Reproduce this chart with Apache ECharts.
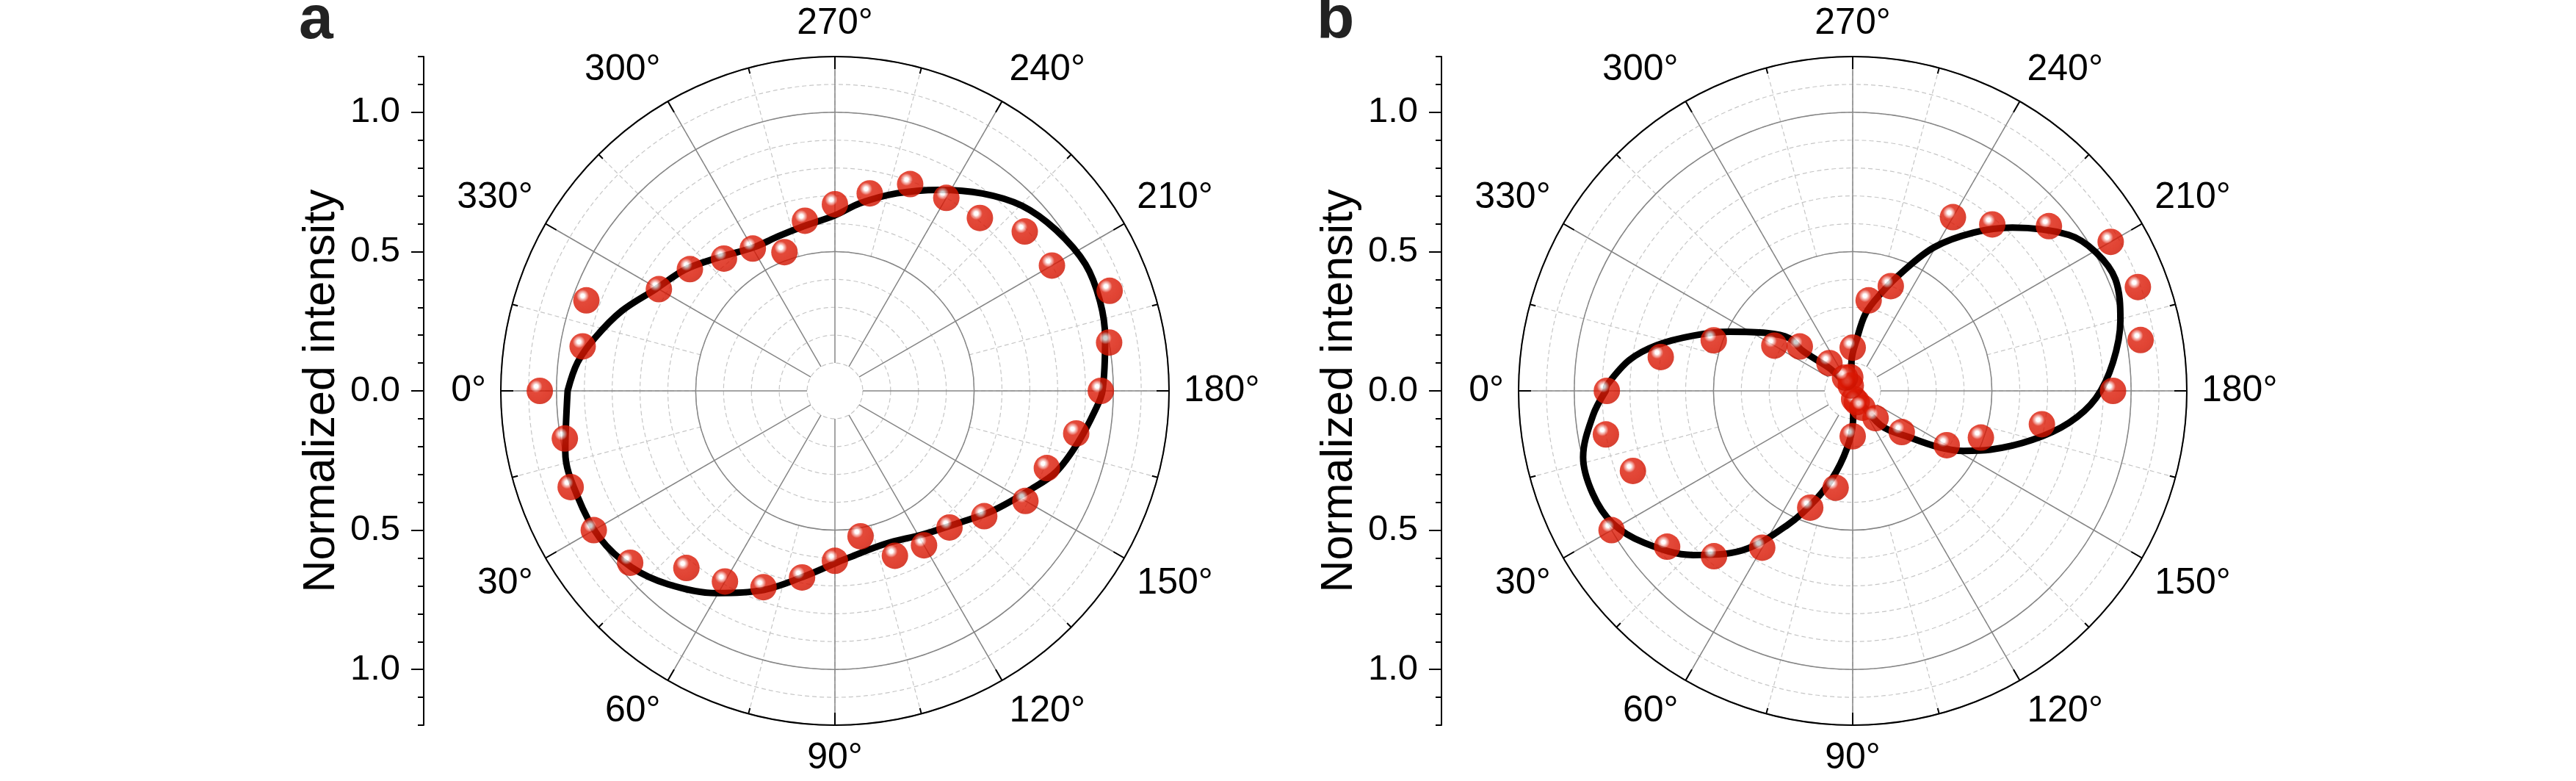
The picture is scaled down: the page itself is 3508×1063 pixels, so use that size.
<!DOCTYPE html>
<html>
<head>
<meta charset="utf-8">
<script src="https://cdn.jsdelivr.net/npm/echarts@6/dist/echarts.min.js"></script>
<style>
html, body { margin: 0; padding: 0; background: #fff; }
#chart { width: 3508px; height: 1063px; }
</style>
</head>
<body>
<div id="chart"></div>
<script>
// measured points, one every 10 degrees
const angles = [0, 10, 20, 30, 40, 50, 60, 70, 80, 90, 100, 110, 120, 130, 140, 150, 160, 170,
    180, 190, 200, 210, 220, 230, 240, 250, 260, 270, 280, 290, 300, 310, 320, 330, 340, 350];

const pointsA = [1.06, 0.985, 1.01, 1.0, 0.96, 0.83, 0.79, 0.75, 0.68, 0.61, 0.53, 0.63,
    0.64, 0.64, 0.70, 0.79, 0.81, 0.88, 0.955, 1.0, 1.05, 0.90, 0.89, 0.81,
    0.80, 0.79, 0.72, 0.67, 0.62, 0.53, 0.59, 0.62, 0.68, 0.73, 0.95, 0.92];

const pointsB = [0.883, 0.90, 0.84, 1.0, 0.87, 0.775, 0.65, 0.446, 0.353, 0.163, 0.03, 0.043,
    0.07, 0.128, 0.23, 0.39, 0.49, 0.69, 0.935, 1.05, 1.09, 1.07, 0.92, 0.78,
    0.72, 0.40, 0.33, 0.155, 0.05, 0.02, 0.055, 0.13, 0.248, 0.325, 0.531, 0.70];

// fitted curves
const fitAngleA = [0, 12.8, 22.2, 32, 40.9, 49.2, 59.8, 69.7, 80.2, 90.7, 95, 108, 121.8, 133,
    142.7, 153.5, 159.9, 168.1, 175.7, 180, 191.1, 198.7, 206.8, 216, 224.7, 233.2, 242.7,
    252.6, 262.3, 270, 281, 290, 299.5, 310.8, 321, 330.4, 339.5, 347.6, 353.7, 360];
const fitRadiusA = [0.96, 0.993, 0.999, 0.996, 0.967, 0.917, 0.84, 0.764, 0.678, 0.616, 0.60, 0.578,
    0.605, 0.649, 0.711, 0.789, 0.846, 0.893, 0.937, 0.961, 0.989, 1.005, 1.008, 0.982, 0.945,
    0.885, 0.812, 0.743, 0.68, 0.63, 0.601, 0.591, 0.592, 0.634, 0.692, 0.74, 0.818, 0.883, 0.93, 0.96];

const fitAngleB = [0, 5.4, 13.8, 21.6, 28.8, 36.1, 45.8, 55.3, 64.2, 71.5, 78.5, 86.6, 91.2, 110,
    129, 140.8, 146.9, 151.6, 156.9, 164.7, 171.6, 178.3, 186.2, 194.7, 203, 209.7, 215.8,
    225.6, 232.6, 240.4, 247.3, 254, 260.5, 265.2, 272.5, 293, 315.3, 319.4, 321.3, 320.4,
    326.1, 334.3, 340.9, 346.9, 352.1, 358.5, 360];
const fitRadiusB = [0.887, 0.937, 0.997, 1.004, 0.985, 0.926, 0.822, 0.696, 0.533, 0.408, 0.296, 0.176,
    0.088, 0, 0.158, 0.264, 0.371, 0.453, 0.538, 0.668, 0.785, 0.874, 0.94, 0.994, 1.025, 1.005,
    0.957, 0.82, 0.715, 0.593, 0.463, 0.362, 0.282, 0.19, 0.102, 0, 0.108, 0.17, 0.233, 0.298,
    0.372, 0.489, 0.606, 0.723, 0.809, 0.881, 0.887];

const yTicks = [-1, -0.5, 0, 0.5, 1];
const panelLetters = ['a', 'b'];

const FONT = 'Liberation Sans';
const R = 455;          // px for r = 1.2
const RMAX = 1.2;
const centers = [[1137, 532], [2523, 532]];
const solidGray = '#868686';
const dashGray = '#c6c6c6';

function ball() {
    return new echarts.graphic.RadialGradient(0.36, 0.33, 0.7, [
        {offset: 0, color: '#ffffff'},
        {offset: 0.1, color: '#ffffff'},
        {offset: 0.17, color: '#f5bcb6'},
        {offset: 0.26, color: '#ea6a5e'},
        {offset: 0.34, color: '#dc1c08'},
        {offset: 0.75, color: '#d91400'},
        {offset: 1, color: '#cc1200'},
    ]);
}

function buildOption() {
    const polar = [];
    const radiusAxis = [];
    const angleAxis = [];
    const grid = [];
    const xAxis = [];
    const yAxis = [];
    const series = [];
    const graphic = [];

    const fits = [[fitAngleA, fitRadiusA], [fitAngleB, fitRadiusB]];
    const points = [pointsA, pointsB];

    centers.forEach((c, p) => {
        const base = p * 4;
        // main: dashed rings, outer circle, angle labels, data
        polar.push({center: c, radius: [0, R]});
        // solid rings at 0.5, 1.0
        polar.push({center: c, radius: [0, R]});
        // solid spokes from r = 0.1
        polar.push({center: c, radius: [R * 0.1 / RMAX, R]});
        // dashed spokes from r = 0.5
        polar.push({center: c, radius: [R * 0.5 / RMAX, R]});

        radiusAxis.push({
            polarIndex: base, min: 0, max: RMAX, interval: 0.1, z: 0,
            axisLine: {show: false}, axisTick: {show: false}, axisLabel: {show: false},
            splitLine: {show: true, lineStyle: {color: dashGray, width: 1.2, type: [6, 4]}},
        });
        radiusAxis.push({
            polarIndex: base + 1, min: 0, max: RMAX, interval: 0.5, z: 1,
            axisLine: {show: false}, axisTick: {show: false}, axisLabel: {show: false},
            splitLine: {show: true, lineStyle: {color: solidGray, width: 1.5}},
        });
        radiusAxis.push({
            polarIndex: base + 2, min: 0.1, max: RMAX, z: 1,
            axisLine: {show: false}, axisTick: {show: false}, axisLabel: {show: false},
            splitLine: {show: false},
        });
        radiusAxis.push({
            polarIndex: base + 3, min: 0.5, max: RMAX, z: 0,
            axisLine: {show: false}, axisTick: {show: false}, axisLabel: {show: false},
            splitLine: {show: false},
        });

        angleAxis.push({
            polarIndex: base, type: 'value', startAngle: 180, clockwise: false,
            min: 0, max: 360, interval: 30, z: 4,
            axisLine: {lineStyle: {color: '#000', width: 2}},
            axisTick: {inside: true, length: 17, lineStyle: {color: '#000', width: 2}},
            minorTick: {show: true, splitNumber: 2, length: 8, lineStyle: {color: '#000', width: 2}},
            axisLabel: {formatter: '{value}°', fontSize: 50, color: '#000', margin: 20, fontFamily: FONT},
            splitLine: {show: false},
        });
        angleAxis.push({
            polarIndex: base + 1, type: 'value', startAngle: 180, clockwise: false,
            min: 0, max: 360, interval: 30,
            axisLine: {show: false}, axisTick: {show: false}, axisLabel: {show: false},
            splitLine: {show: false},
        });
        angleAxis.push({
            polarIndex: base + 2, type: 'value', startAngle: 180, clockwise: false,
            min: 0, max: 360, interval: 30, z: 1,
            axisLine: {show: false}, axisTick: {show: false}, axisLabel: {show: false},
            splitLine: {show: true, lineStyle: {color: solidGray, width: 1.5}},
        });
        angleAxis.push({
            polarIndex: base + 3, type: 'value', startAngle: 180, clockwise: false,
            min: 0, max: 360, interval: 15, z: 0,
            axisLine: {show: false}, axisTick: {show: false}, axisLabel: {show: false},
            splitLine: {show: true, lineStyle: {color: dashGray, width: 1.2, type: [6, 4]}},
        });

        // left linear axis
        grid.push({left: c[0] - 560, top: c[1] - R, width: 2, height: 2 * R, outerBoundsMode: 'none'});
        xAxis.push({gridIndex: p, type: 'value', show: false});
        yAxis.push({
            gridIndex: p, type: 'value', position: 'left', min: -RMAX, max: RMAX, interval: 0.1,
            axisLine: {show: true, lineStyle: {color: '#000', width: 2}},
            axisTick: {show: true, length: 8, lineStyle: {color: '#000', width: 2}},
            axisLabel: {show: false},
            splitLine: {show: false},
        });
        yAxis.push({
            gridIndex: p, type: 'value', position: 'left', min: -RMAX, max: RMAX, interval: 0.1,
            axisLine: {show: false},
            axisTick: {show: true, customValues: yTicks, length: 17, lineStyle: {color: '#000', width: 2}},
            axisLabel: {
                customValues: yTicks, fontSize: 49, color: '#000', margin: 32, fontFamily: FONT,
                formatter: (v) => Math.abs(v).toFixed(1),
            },
            splitLine: {show: false},
            name: 'Normalized intensity',
            nameLocation: 'middle',
            nameGap: 108,
            nameTextStyle: {fontSize: 61, color: '#000', fontFamily: FONT},
        });

        const fa = fits[p][0];
        const fr = fits[p][1];
        series.push({
            type: 'line', coordinateSystem: 'polar', polarIndex: base,
            data: fa.map((a, i) => [fr[i], a]),
            smooth: 0.35, showSymbol: false, z: 5, silent: true,
            lineStyle: {color: '#000', width: 9, cap: 'round', join: 'round'},
        });
        series.push({
            type: 'scatter', coordinateSystem: 'polar', polarIndex: base,
            data: angles.map((a, i) => [points[p][i], a]),
            symbol: 'circle', symbolSize: 36, z: 6,
            itemStyle: {color: ball()},
        });

        graphic.push({
            type: 'text', left: c[0] - 730, top: -13,
            style: {text: panelLetters[p], font: 'bold 84px "Liberation Sans"', fill: '#222'},
        });
    });

    return {
        animation: false,
        textStyle: {fontFamily: FONT},
        polar, radiusAxis, angleAxis, grid, xAxis, yAxis, series, graphic,
    };
}

const chart = echarts.init(document.getElementById('chart'));
chart.setOption(buildOption());
</script>
</body>
</html>
